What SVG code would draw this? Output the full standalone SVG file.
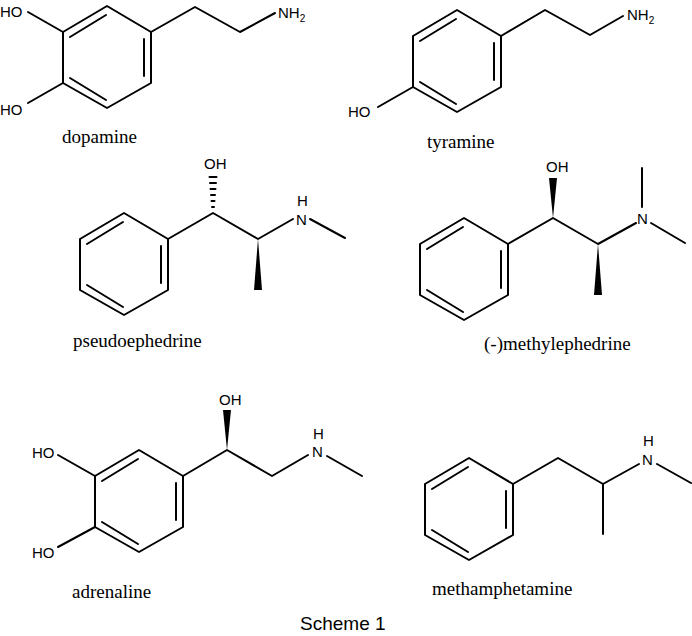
<svg xmlns="http://www.w3.org/2000/svg" xmlns:xlink="http://www.w3.org/1999/xlink" width="692" height="636" viewBox="0 0 692 636">
<style>
.b{stroke:#000;stroke-width:2;fill:none;stroke-linecap:round;stroke-linejoin:round}
.a{font-family:"Liberation Sans",Arial,sans-serif;font-size:15px;fill:#000}
.s{font-size:10px}
.l{font-family:"Liberation Serif","Times New Roman",serif;font-size:19px;fill:#000}
.w{fill:#000}
</style>
<defs>
<g id="ring" class="b">
<polygon points="0,-51 44,-25 44,26 0,51 -44,26 -44,-25"/>
<line x1="-37" y1="-20" x2="-1" y2="-42"/>
<line x1="37" y1="-18" x2="37" y2="19"/>
<line x1="-37" y1="21" x2="-1" y2="43"/>
</g>
</defs>
<rect width="692" height="636" fill="#fff"/>
<g id="dopamine">
<use xlink:href="#ring" href="#ring" x="107" y="57"/>
<polyline class="b" points="151,32 195,7 240,32 275,13"/>
<line class="b" x1="28" y1="12" x2="63" y2="32"/>
<line class="b" x1="28" y1="103" x2="63" y2="83"/>
<text class="a" x="0" y="17">HO</text>
<text class="a" x="0" y="115">HO</text>
<text class="a" x="278" y="18">NH<tspan class="s" dy="4">2</tspan></text>
<text class="l" x="62" y="143">dopamine</text>
</g>
<g id="tyramine">
<use xlink:href="#ring" href="#ring" x="457" y="61"/>
<polyline class="b" points="501,36 545,10 590,35 623,16"/>
<line class="b" x1="413" y1="87" x2="378" y2="107"/>
<text class="a" x="348" y="117">HO</text>
<text class="a" x="627" y="20">NH<tspan class="s" dy="4">2</tspan></text>
<text class="l" x="427" y="148">tyramine</text>
</g>
<g id="pseudoephedrine">
<use xlink:href="#ring" href="#ring" x="124" y="264"/>
<polyline class="b" points="168,239 213,213 258,239 293,219"/>
<line class="b" x1="310" y1="219" x2="345" y2="238"/>
<polygon class="w" points="258,239 262,290 254,290"/>
<g class="b" stroke-width="1.4">
<line x1="212" y1="207" x2="214" y2="207"/><line x1="211.5" y1="201" x2="214.5" y2="201"/>
<line x1="211" y1="195" x2="215" y2="195"/><line x1="210.5" y1="189" x2="215.5" y2="189"/>
<line x1="210" y1="183" x2="216" y2="183"/><line x1="209.5" y1="177" x2="216.5" y2="177"/>
</g>
<text class="a" x="204" y="169">OH</text>
<text class="a" x="296" y="225">N</text>
<text class="a" x="297" y="206">H</text>
<text class="l" x="73" y="347">pseudoephedrine</text>
</g>
<g id="methylephedrine">
<use xlink:href="#ring" href="#ring" x="464" y="269"/>
<polyline class="b" points="508,244 553,218 598,244 636,223"/>
<line class="b" x1="642" y1="207" x2="642" y2="168"/>
<line class="b" x1="651" y1="223" x2="685" y2="243"/>
<polygon class="w" points="598,244 602,295 594,295"/>
<polygon class="w" points="553,218 549,178 557,178"/>
<text class="a" x="546" y="172">OH</text>
<text class="a" x="637" y="224">N</text>
<text class="l" x="484" y="350">(-)methylephedrine</text>
</g>
<g id="adrenaline">
<use xlink:href="#ring" href="#ring" x="139" y="501"/>
<polyline class="b" points="183,476 227,450 272,476 308,455"/>
<line class="b" x1="327" y1="456" x2="362" y2="476"/>
<line class="b" x1="58" y1="455" x2="95" y2="476"/>
<line class="b" x1="58" y1="547" x2="95" y2="527"/>
<polygon class="w" points="227,450 223,410 231,410"/>
<text class="a" x="219" y="405">OH</text>
<text class="a" x="32" y="458">HO</text>
<text class="a" x="32" y="558">HO</text>
<text class="a" x="312" y="457">N</text>
<text class="a" x="313" y="439">H</text>
<text class="l" x="72" y="598">adrenaline</text>
</g>
<g id="methamphetamine">
<use xlink:href="#ring" href="#ring" x="469" y="509"/>
<polyline class="b" points="513,484 558,458 603,484 639,464"/>
<line class="b" x1="603" y1="484" x2="603" y2="534"/>
<line class="b" x1="657" y1="464" x2="691" y2="483"/>
<text class="a" x="642" y="465">N</text>
<text class="a" x="643" y="446">H</text>
<text class="l" x="432" y="595">methamphetamine</text>
</g>
<text font-family="Liberation Sans,Arial,sans-serif" font-size="19" x="300" y="630">Scheme 1</text>
</svg>
